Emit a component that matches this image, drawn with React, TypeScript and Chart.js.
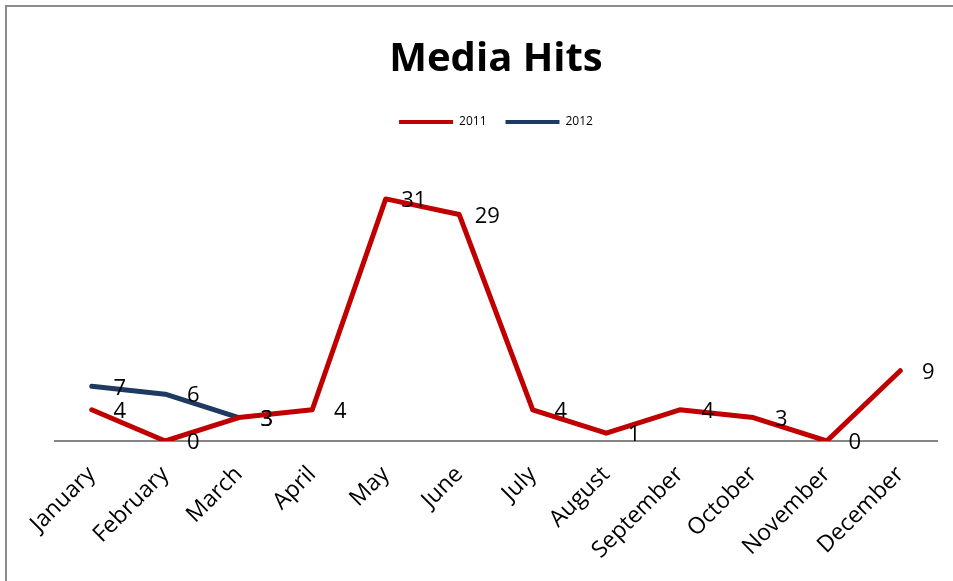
import React, { useEffect, useRef } from "react";
import { Chart, registerables } from "chart.js";

Chart.register(...registerables);

const months = [
  "January", "February", "March", "April", "May", "June",
  "July", "August", "September", "October", "November", "December",
];
const hits2011 = [4, 0, 3, 4, 31, 29, 4, 1, 4, 3, 0, 9];
const hits2012 = [7, 6, 3, null, null, null, null, null, null, null, null, null];

const RED = "#C00000";
const BLUE = "#1F3A60";
const FONT = "'Open Sans', 'Noto Sans', sans-serif";

const dataLabels = {
  id: "dataLabels",
  afterDatasetsDraw(chart: any) {
    const ctx = chart.ctx;
    ctx.save();
    ctx.font = `22px ${FONT}`;
    ctx.fillStyle = "#000";
    ctx.textAlign = "center";
    ctx.textBaseline = "middle";
    chart.data.datasets.forEach((ds: any, i: number) => {
      const meta = chart.getDatasetMeta(i);
      meta.data.forEach((pt: any, j: number) => {
        const v = ds.data[j];
        if (v === null || v === undefined) return;
        ctx.fillText(String(v), pt.x + 28, pt.y + 2);
      });
    });
    ctx.restore();
  },
};

export default function App() {
  const canvasRef = useRef<HTMLCanvasElement | null>(null);

  useEffect(() => {
    document.body.style.margin = "0";
    const canvas = canvasRef.current;
    if (!canvas) return;
    const chart = new Chart(canvas, {
      type: "line",
      data: {
        labels: months,
        datasets: [
          {
            label: "2011",
            data: hits2011,
            borderColor: RED,
            backgroundColor: RED,
            borderWidth: 5,
            pointRadius: 0,
            tension: 0,
            borderJoinStyle: "round",
            borderCapStyle: "round",
          },
          {
            label: "2012",
            data: hits2012,
            borderColor: BLUE,
            backgroundColor: BLUE,
            borderWidth: 5,
            pointRadius: 0,
            tension: 0,
            borderJoinStyle: "round",
            borderCapStyle: "round",
            spanGaps: false,
          },
        ],
      },
      options: {
        responsive: false,
        animation: false,
        layout: { padding: { left: 55, right: 16, top: 0, bottom: 0 } },
        plugins: {
          title: {
            display: true,
            text: "Media Hits",
            color: "#000",
            font: { family: FONT, size: 40, weight: "bold" },
            padding: { top: 36, bottom: 13 },
          },
          legend: {
            display: true,
            labels: {
              boxWidth: 54,
              boxHeight: 4,
              color: "#000",
              font: { family: FONT, size: 12 },
              padding: 19,
              generateLabels: (chart: any) =>
                chart.data.datasets.map((ds: any, i: number) => ({
                  text: ds.label,
                  fillStyle: ds.borderColor,
                  strokeStyle: ds.borderColor,
                  lineWidth: 0,
                  hidden: false,
                  datasetIndex: i,
                  fontColor: "#000",
                })),
            },
          },
          tooltip: { enabled: false },
        },
        scales: {
          x: {
            offset: true,
            grid: { display: false },
            border: { display: true, color: "#868686", width: 2 },
            ticks: {
              color: "#000",
              font: { family: FONT, size: 23 },
              minRotation: 45,
              maxRotation: 45,
              padding: 12,
              autoSkip: false,
            },
            afterFit: (scale: any) => {
              scale.height = 140;
              scale.paddingLeft = 0;
              scale.paddingRight = 0;
            },
          },
          y: {
            display: false,
            min: 0,
            max: 38.8,
          },
        },
      },
      plugins: [dataLabels],
    });
    return () => chart.destroy();
  }, []);

  return (
    <div style={{ position: "relative", width: 953, height: 581, overflow: "hidden", background: "#fff" }}>
      <canvas ref={canvasRef} width={953} height={581} style={{ position: "absolute", left: 0, top: 0 }} />
      <div
        style={{
          position: "absolute",
          left: 5,
          top: 5,
          width: 1200,
          height: 1200,
          borderLeft: "2px solid #8c8c8c",
          borderTop: "2px solid #8c8c8c",
          pointerEvents: "none",
        }}
      />
    </div>
  );
}
